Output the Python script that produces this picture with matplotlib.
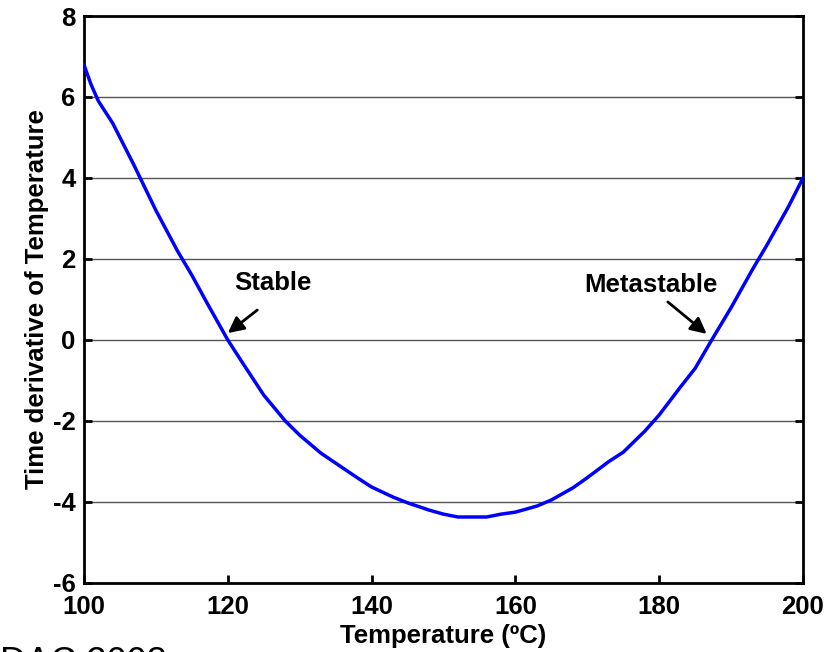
import matplotlib
matplotlib.use("Agg")
import matplotlib.pyplot as plt
import numpy as np

plt.rcParams['font.family'] = ['Liberation Sans', 'DejaVu Sans']
plt.rcParams['axes.unicode_minus'] = False
plt.rcParams['font.weight'] = 'bold'

temp = [100, 101, 102, 104, 105, 107, 110, 113, 115, 117, 120, 122, 125, 128, 130, 133, 135, 138, 140, 143, 145, 148,
        150, 152, 154, 156, 158, 160, 163, 165, 168, 170, 173, 175, 178, 180, 183, 185, 187.3, 190, 193, 195, 198, 200]
dTdt = [6.79, 6.3, 5.9, 5.35, 5.0, 4.3, 3.2, 2.2, 1.6, 0.95, 0.0, -0.55, -1.36, -2.0, -2.35, -2.8, -3.04, -3.4, -3.63, -3.88, -4.02, -4.2,
        -4.30, -4.37, -4.37, -4.37, -4.30, -4.25, -4.1, -3.95, -3.65, -3.4, -3.0, -2.77, -2.25, -1.85, -1.15, -0.7, 0.0, 0.8, 1.75, 2.35, 3.3, 4.0]

xticks = [100, 120, 140, 160, 180, 200]
yticks = [-6, -4, -2, 0, 2, 4, 6, 8]

fs = 18.5
fig = plt.figure(figsize=(8.31, 6.52), dpi=100)
ax = fig.add_axes([84/831, 1-583/652, (803-84)/831, (583-16)/652])

ax.plot(temp, dTdt, color='#0000ff', lw=2.5, zorder=3)
ax.set_xlim(100, 200)
ax.set_ylim(-6, 8)
ax.set_xticks(xticks)
ax.set_yticks(yticks)
ax.yaxis.grid(True, color='#555555', lw=1.0)
ax.set_axisbelow(True)
for s in ax.spines.values():
    s.set_linewidth(2.0)
ax.tick_params(direction='in', length=6, width=2, labelsize=fs, top=False, right=True)
ax.tick_params(axis='x', pad=9)
ax.tick_params(axis='y', pad=6)
ax.set_xlabel('Temperature (ºC)', fontsize=fs, fontweight='bold', labelpad=3)
ax.set_ylabel('Time derivative of Temperature', fontsize=fs, fontweight='bold', labelpad=3)

ax.text(126.3, 1.41, 'Stable', ha='center', va='center', fontsize=fs, fontweight='bold')
ax.annotate('', xy=(120.0, 0.17), xytext=(124.1, 0.74),
            arrowprops=dict(arrowstyle='-|>', color='black', lw=2, mutation_scale=24, shrinkA=0, shrinkB=0))
ax.text(178.9, 1.36, 'Metastable', ha='center', va='center', fontsize=fs, fontweight='bold')
ax.annotate('', xy=(186.6, 0.15), xytext=(181.2, 0.94),
            arrowprops=dict(arrowstyle='-|>', color='black', lw=2, mutation_scale=24, shrinkA=0, shrinkB=0))

fig.text(0.0, 1-646/652, 'DAC 2008', fontsize=26, fontweight='normal', ha='left', va='top')

fig.savefig('out.png', dpi=100)
